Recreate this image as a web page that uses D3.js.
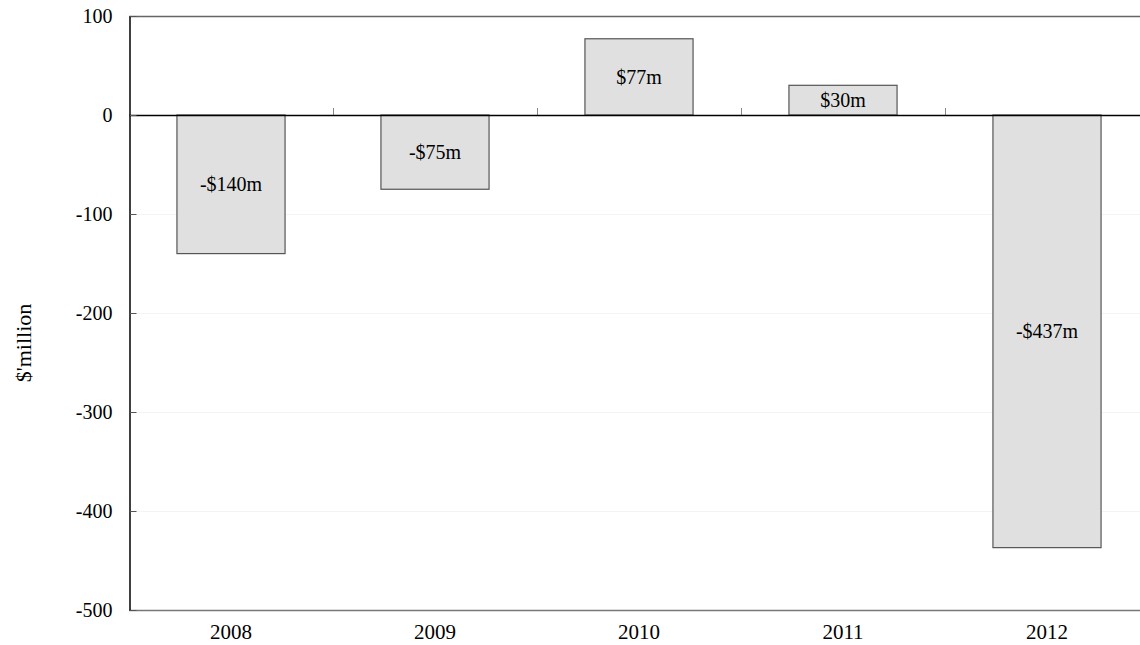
<!DOCTYPE html>
<html>
<head>
<meta charset="utf-8">
<script src="https://cdn.jsdelivr.net/npm/d3@7"></script>
<style>
  html, body { margin: 0; padding: 0; background: #fff; }
  svg { display: block; }
  text { font-family: "Liberation Serif", "Times New Roman", serif; fill: #000; }
</style>
</head>
<body>
<svg id="chart" width="1140" height="645"></svg>
<script>
// Annual result, $ million
const years = ["2008", "2009", "2010", "2011", "2012"];
const values = [-140, -75, 77, 30, -437];
const valueLabels = ["-$140m", "-$75m", "$77m", "$30m", "-$437m"];
const yTicks = [100, 0, -100, -200, -300, -400, -500];
const gridValues = [-100, -200, -300, -400];

const svg = d3.select("#chart");
const plotLeft = 129, plotRight = 1149, plotTop = 16, plotBottom = 610;

const x = d3.scaleBand()
  .domain(years)
  .range([plotLeft, plotRight])
  .paddingInner(0.47)
  .paddingOuter(0.235);

const y = d3.scaleLinear().domain([-500, 100]).range([plotBottom, plotTop]);

// faint horizontal gridlines
svg.append("g").selectAll("line").data(gridValues).join("line")
  .attr("x1", plotLeft).attr("x2", plotRight)
  .attr("y1", d => y(d) + 0.5).attr("y2", d => y(d) + 0.5)
  .attr("stroke", "#f4f4f4").attr("stroke-width", 1);

// top and bottom frame lines
svg.append("line").attr("x1", plotLeft).attr("x2", plotRight)
  .attr("y1", y(100) + 0.5).attr("y2", y(100) + 0.5)
  .attr("stroke", "#666").attr("stroke-width", 1.3);
svg.append("line").attr("x1", plotLeft).attr("x2", plotRight)
  .attr("y1", y(-500) + 0.5).attr("y2", y(-500) + 0.5)
  .attr("stroke", "#777").attr("stroke-width", 1.3);

// bars
svg.append("g").selectAll("rect").data(values).join("rect")
  .attr("x", (d, i) => x(years[i]))
  .attr("width", x.bandwidth())
  .attr("y", d => y(Math.max(0, d)))
  .attr("height", d => Math.abs(y(d) - y(0)))
  .attr("fill", "#e0e0e0")
  .attr("stroke", "#555")
  .attr("stroke-width", 1.2);

// value labels centred in each bar
svg.append("g").selectAll("text").data(values).join("text")
  .attr("x", (d, i) => x(years[i]) + x.bandwidth() / 2)
  .attr("y", d => (y(d) + y(0)) / 2)
  .attr("dy", "0.35em")
  .attr("text-anchor", "middle")
  .attr("font-size", 20)
  .text((d, i) => valueLabels[i]);

// zero line with category dividers
const step = x.step();
const dividers = years.slice(1).map(yr => x(yr) - x.paddingInner() * step / 2);
svg.append("g").selectAll("line").data(dividers).join("line")
  .attr("x1", d => Math.round(d) + 0.5).attr("x2", d => Math.round(d) + 0.5)
  .attr("y1", y(0)).attr("y2", y(0) - 7)
  .attr("stroke", "#888").attr("stroke-width", 1);
svg.append("line").attr("x1", plotLeft).attr("x2", plotRight)
  .attr("y1", y(0) + 0.5).attr("y2", y(0) + 0.5)
  .attr("stroke", "#000").attr("stroke-width", 1.5);

// y axis
const yAxis = d3.axisLeft(y).tickValues(yTicks).tickFormat(d => String(d))
  .tickSizeInner(-7).tickSizeOuter(0).tickPadding(17);
const gy = svg.append("g").attr("transform", `translate(${plotLeft + 0.5},0)`).call(yAxis);
gy.select(".domain").attr("stroke", "#000").attr("stroke-width", 1.5);
gy.selectAll(".tick line").attr("stroke", "#555");
gy.selectAll(".tick text").attr("font-size", 20).attr("font-family", "Liberation Serif").attr("fill", "#000");

// x axis labels
const xAxis = d3.axisBottom(x).tickSize(0).tickPadding(14);
const gx = svg.append("g").attr("transform", `translate(0,${plotBottom})`).call(xAxis);
gx.select(".domain").remove();
gx.selectAll(".tick text").attr("font-size", 21).attr("font-family", "Liberation Serif").attr("fill", "#000");

// y axis title
svg.append("text")
  .attr("transform", "translate(23,343) rotate(-90)")
  .attr("text-anchor", "middle")
  .attr("dy", "0.35em")
  .attr("font-size", 22)
  .text("$'million");
</script>
</body>
</html>
